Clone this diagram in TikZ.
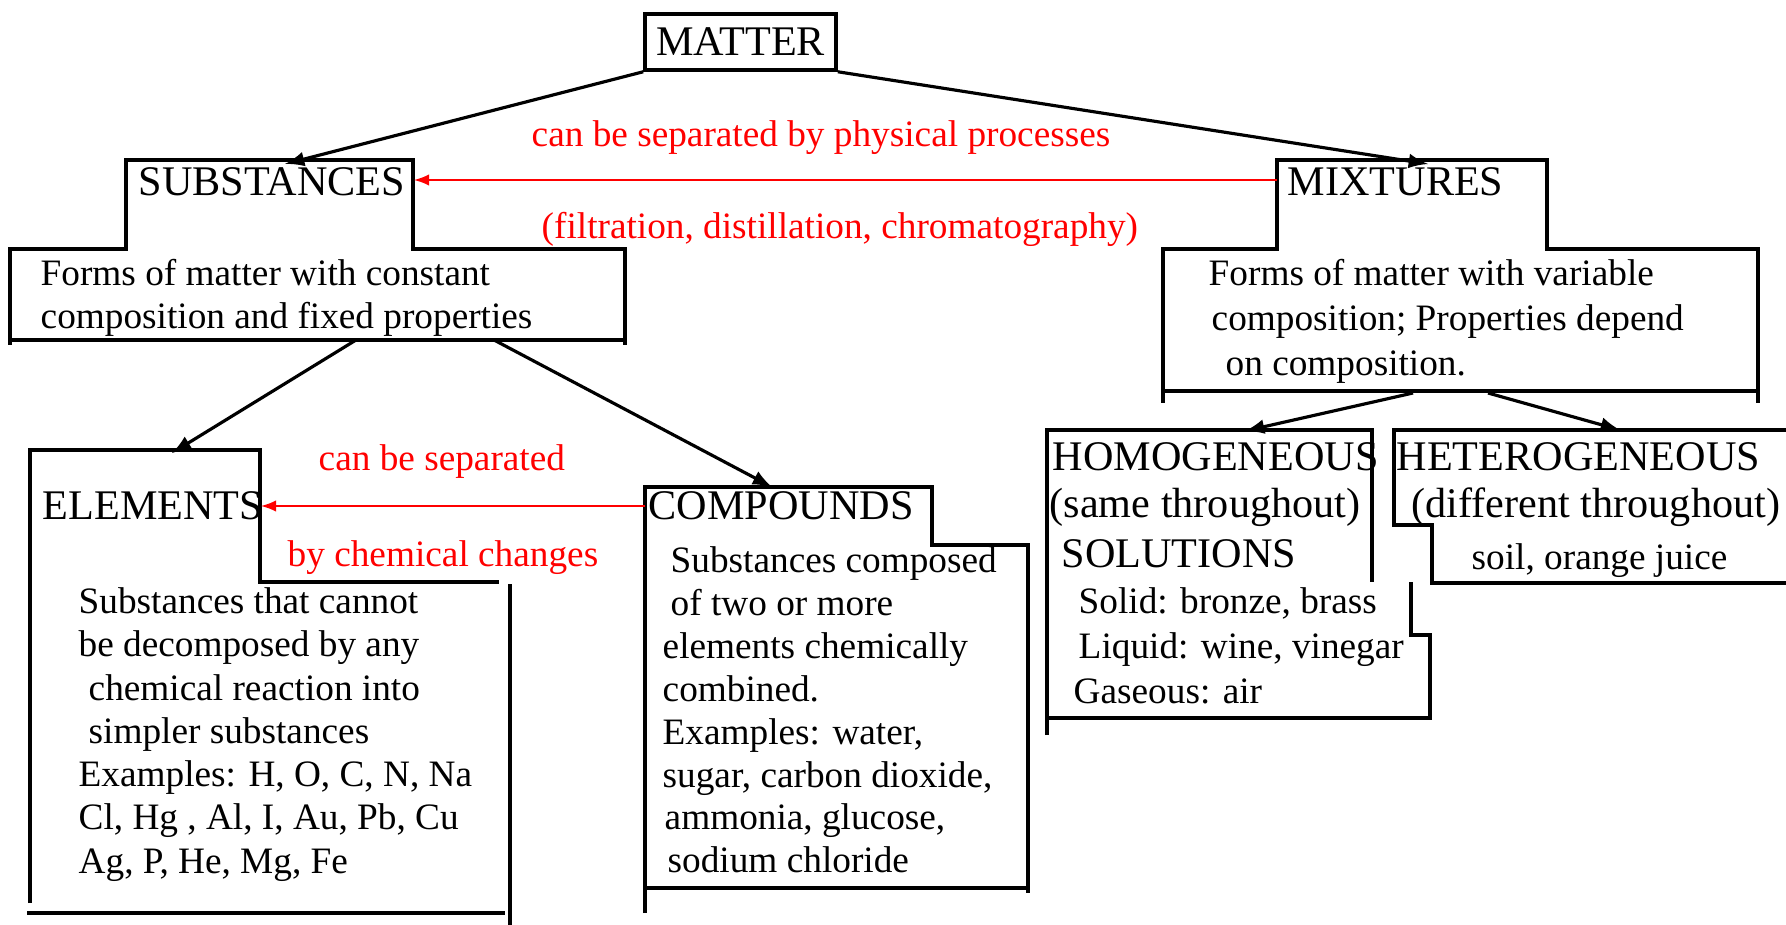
\documentclass[tikz,border=0pt]{standalone}
\usepackage{fontspec}
\setmainfont{Liberation Serif}
\tikzset{
    box/.style={line width=1pt},
    head/.style={font=\fontsize{12}{13.8}\selectfont, inner sep=0pt, anchor=base west},
    line/.style={font=\fontsize{10.6}{12.2}\selectfont, inner sep=0pt, anchor=base west},
    note/.style={line, text=red},
    body/.style={font=\fontsize{10.6}{12.2}\selectfont, inner sep=0pt, anchor=north west, align=left},
    link/.style={-latex, line width=0.9pt},
    sep/.style={-latex, red, line width=0.5pt}
}
\begin{document}
\begin{tikzpicture}[x=0.01cm, y=-0.01cm]
    \useasboundingbox (0,0) rectangle (1786,925);

    % top
    \node[draw, box, minimum width=1.91cm, minimum height=0.56cm, inner sep=0pt,
          font=\fontsize{12}{13.8}\selectfont] (matter) at (740.5,42) {MATTER};

    % substances
    \draw[box] (10,345) -- (10,249) -- (126,249) -- (126,160) -- (413,160)
         -- (413,249) -- (625,249) -- (625,345);
    \draw[box] (10,340) -- (625,340);
    \node[head] (subs) at (138,196) {SUBSTANCES};
    \node[body] (subs-txt) at (40,259) {Forms of matter with constant\\composition and fixed properties};
    \coordinate (subs-in) at (285,164);
    \coordinate (subs-e) at (414,180);
    \coordinate (subs-l) at (356,340);
    \coordinate (subs-r) at (494,340);

    % mixtures
    \draw[box] (1163,403) -- (1163,249) -- (1277,249) -- (1277,160) -- (1547,160)
         -- (1547,249) -- (1758,249) -- (1758,403);
    \draw[box] (1163,391) -- (1758,391);
    \node[head] (mix) at (1287,196) {MIXTURES};
    \node[body, font=\fontsize{10.6}{12.8}\selectfont] (mix-txt) at (1208,259)
        {Forms of matter with variable\\\hspace*{0.03cm}composition; Properties depend\\\hspace*{0.17cm}on composition.};
    \coordinate (mix-in) at (1428,164);
    \coordinate (mix-w) at (1277,180);
    \coordinate (mix-l) at (1413,393);
    \coordinate (mix-r) at (1488,393);

    \node[note] (phys) at (531,147) {can be separated by physical processes};
    \node[note] (phys-eg) at (541,239) {(filtration, distillation, chromatography)};

    % elements
    \draw[box] (30,903) -- (30,450) -- (260,450) -- (260,582) -- (499,582);
    \draw[box] (510,584) -- (510,925);
    \draw[box] (27,913) -- (505,913);
    \node[head] (elem) at (42,519) {ELEMENTS};
    \node[body, font=\fontsize{10.6}{12.3}\selectfont] (elem-txt) at (78,587)
        {Substances that cannot\\be decomposed by any\\\hspace*{0.1cm}chemical reaction into\\\hspace*{0.1cm}simpler substances\\Examples: H, O, C, N, Na\\Cl, Hg , Al, I, Au, Pb, Cu\\Ag, P, He, Mg, Fe};
    \coordinate (elem-in) at (172,453);
    \coordinate (elem-e) at (261,506);

    % compounds
    \draw[box] (645,913) -- (645,487) -- (932,487) -- (932,545) -- (1028,545) -- (1028,893);
    \draw[box] (645,888) -- (1028,888);
    \node[head] (comp) at (648,519) {COMPOUNDS};
    \node[body] (comp-txt) at (662,546)
        {\hspace*{0.08cm}Substances composed\\\hspace*{0.08cm}of two or more\\elements chemically\\combined.\\Examples: water,\\sugar, carbon dioxide,\\\hspace*{0.02cm}ammonia, glucose,\\\hspace*{0.05cm}sodium chloride};
    \coordinate (comp-in) at (772,487);
    \coordinate (comp-w) at (645,506);

    \node[note] (chem) at (318,470) {can be separated};
    \node[note] (chem-by) at (287,566) {by chemical changes};

    % homogeneous
    \draw[box] (1047,735) -- (1047,430) -- (1372,430) -- (1372,582);
    \draw[box] (1411,582) -- (1411,635) -- (1430,635) -- (1430,720);
    \draw[box] (1047,718) -- (1430,718);
    \node[head] (homo) at (1052,470) {HOMOGENEOUS};
    \node[head] (homo-same) at (1049,517) {(same throughout)};
    \node[head] (sol) at (1061,567) {SOLUTIONS};
    \node[body, font=\fontsize{10.6}{12.8}\selectfont] (sol-txt) at (1073,587)
        {\hspace*{0.05cm}Solid: bronze, brass\\\hspace*{0.05cm}Liquid: wine, vinegar\\Gaseous: air};
    \coordinate (homo-in) at (1245,431);

    % heterogeneous
    \draw[box] (1786,430) -- (1394,430) -- (1394,525) -- (1432,525) -- (1432,583) -- (1786,583);
    \node[head] (hetero) at (1396,470) {HETEROGENEOUS};
    \node[head] (hetero-diff) at (1411,517) {(different throughout)};
    \node[line] (hetero-eg) at (1471,569) {soil, orange juice};
    \coordinate (hetero-in) at (1620,430);

    % arrows
    \draw[link] (matter.south west) -- (subs-in);
    \draw[link] (matter.south east) -- (mix-in);
    \draw[link] (subs-l) -- (elem-in);
    \draw[link] (subs-r) -- (comp-in);
    \draw[link] (mix-l) -- (homo-in);
    \draw[link] (mix-r) -- (hetero-in);
    \draw[sep] (mix-w) -- (subs-e);
    \draw[sep] (comp-w) -- (elem-e);
\end{tikzpicture}
\end{document}
